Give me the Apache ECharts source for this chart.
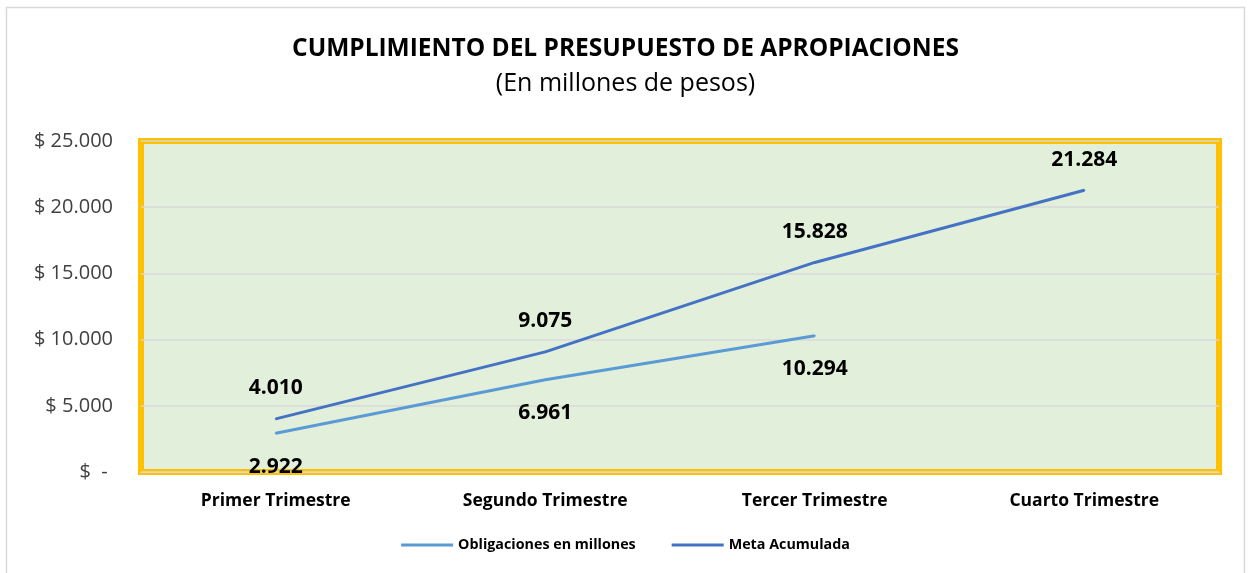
<!DOCTYPE html>
<html>
<head>
<meta charset="utf-8">
<script src="https://cdn.jsdelivr.net/npm/echarts@6/dist/echarts.min.js"></script>
<style>
  html, body { margin: 0; padding: 0; background: #fff; }
  #chart { width: 1251px; height: 573px; }
</style>
</head>
<body>
<div id="chart"></div>
<script>
var categories = ['Primer Trimestre', 'Segundo Trimestre', 'Tercer Trimestre', 'Cuarto Trimestre'];
var obligaciones = [2922, 6961, 10294, null];
var metaAcumulada = [4010, 9075, 15828, 21284];

function fmtNum(v) {
  return String(v).replace(/\B(?=(\d{3})+(?!\d))/g, '.');
}

var chartDom = document.getElementById('chart');
var myChart = echarts.init(chartDom);
var option;
var font = '"Open Sans", Lato, sans-serif';

option = {
  backgroundColor: '#fff',
  animation: false,
  title: {
    text: 'CUMPLIMIENTO DEL PRESUPUESTO DE APROPIACIONES',
    subtext: '(En millones de pesos)',
    left: 'center',
    top: 32,
    itemGap: 9,
    textStyle: { fontFamily: font, fontSize: 24.5, fontWeight: 'bold', color: '#000' },
    subtextStyle: { fontFamily: font, fontSize: 25, color: '#000' }
  },
  graphic: [
    {
      type: 'rect',
      shape: { x: 6.5, y: 7.5, width: 1238, height: 580 },
      style: { fill: 'none', stroke: '#d9d9d9', lineWidth: 1.5 },
      silent: true
    }
  ],
  legend: {
    bottom: 16,
    left: 'center',
    itemWidth: 52,
    itemHeight: 3,
    itemGap: 36,
    icon: 'rect',
    textStyle: { fontFamily: font, fontSize: 14.3, fontWeight: 'bold', color: '#000' },
    data: ['Obligaciones en millones', 'Meta Acumulada']
  },
  grid: {
    left: 141,
    right: 32,
    top: 141,
    height: 331,
    show: true,
    backgroundColor: '#e2efda',
    borderColor: '#ffc000',
    borderWidth: 6
  },
  xAxis: {
    type: 'category',
    data: categories,
    boundaryGap: true,
    axisLine: { show: true, lineStyle: { color: '#d9d9d9', width: 1 } },
    axisTick: { show: false },
    axisLabel: { fontFamily: font, fontSize: 17.5, fontWeight: 'bold', color: '#000', margin: 20 }
  },
  yAxis: {
    type: 'value',
    min: 0,
    max: 25000,
    interval: 5000,
    axisLine: { show: false },
    axisTick: { show: false },
    splitLine: { lineStyle: { color: '#d9d9d9', width: 1.5 } },
    axisLabel: {
      fontFamily: font,
      fontSize: 20,
      color: '#404040',
      margin: 28,
      formatter: function (v) {
        return v === 0 ? '$  - ' : '$ ' + fmtNum(v);
      }
    }
  },
  series: [
    {
      name: 'Obligaciones en millones',
      type: 'line',
      data: obligaciones,
      showSymbol: true,
      symbol: 'circle',
      symbolSize: 2,
      color: '#5b9bd5',
      lineStyle: { width: 3, color: '#5b9bd5' },
      label: {
        show: true,
        position: 'bottom',
        distance: 22,
        fontFamily: font,
        fontSize: 21,
        fontWeight: 'bold',
        color: '#000',
        formatter: function (p) { return fmtNum(p.value); }
      }
    },
    {
      name: 'Meta Acumulada',
      type: 'line',
      data: metaAcumulada,
      showSymbol: true,
      symbol: 'circle',
      symbolSize: 2,
      color: '#4472c4',
      lineStyle: { width: 3, color: '#4472c4' },
      label: {
        show: true,
        position: 'top',
        distance: 19,
        fontFamily: font,
        fontSize: 21,
        fontWeight: 'bold',
        color: '#000',
        formatter: function (p) { return fmtNum(p.value); }
      }
    }
  ]
};

option && myChart.setOption(option);
</script>
</body>
</html>
